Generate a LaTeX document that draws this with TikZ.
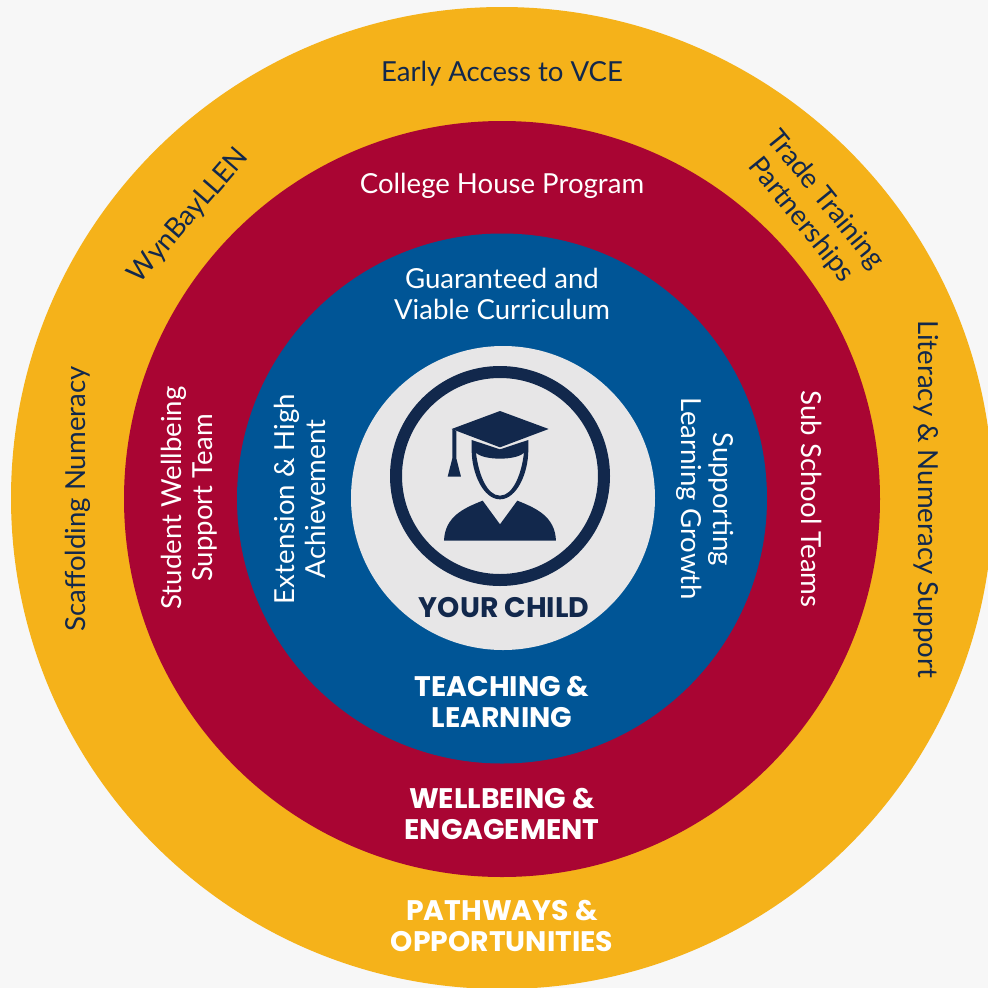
\documentclass[tikz,border=0pt]{standalone}
\usepackage{fontspec}
\setmainfont{Lato}
\newfontfamily\headfont{Poppins}
\definecolor{pagegrey}{HTML}{F7F7F7}
\definecolor{ringyellow}{HTML}{F5B21A}
\definecolor{ringred}{HTML}{A90533}
\definecolor{ringblue}{HTML}{005596}
\definecolor{coregrey}{HTML}{E7E6E7}
\definecolor{navy}{HTML}{12284C}

\begin{document}
\begin{tikzpicture}
  [x=0.02cm,y=-0.02cm,every node/.style={align=center,inner sep=0pt,font=\fontsize{15.7}{17.9}\selectfont},
   dark/.style={text=navy},
   light/.style={text=white},
   head/.style={text=white,font=\headfont\bfseries\fontsize{16.1}{17.9}\selectfont}]
  \useasboundingbox (0,0) rectangle (988,988);
  \clip (0,0) rectangle (988,988);
  \fill[pagegrey] (0,0) rectangle (988,988);
  \fill[ringyellow] (502,498) circle [radius=491];
  \fill[ringred] (502,499) circle [radius=378];
  \fill[ringblue] (502,498.5) circle [radius=265];
  \fill[coregrey] (503,498) circle [radius=152];
  \draw[navy,line width=12*0.02cm] (500,476) circle [radius=104];
  \begin{scope}[shift={(370,350)},scale=0.3333]
    \fill[navy,line join=round] (245,237) -- (390,183) -- (536,237) -- (390,292) -- cycle;
    \fill[navy,even odd rule] (305,270) -- (390,298) -- (475,270) -- (475,300) .. controls (475,370) and (440,448) .. (390,448) .. controls (340,448) and (305,370) .. (305,300) -- cycle
      (318,308) .. controls (340,332) and (440,332) .. (462,308) .. controls (455,370) and (430,437) .. (390,437) .. controls (350,437) and (325,370) .. (318,308) -- cycle;
    \fill[navy] (247,237) -- (259,243) -- (259,325) -- (273,380) -- (233,380) -- (247,325) -- cycle;
    \fill[navy] (222,572) .. controls (225,500) and (280,475) .. (338,452) -- (390,523) -- (442,452) .. controls (500,475) and (555,500) .. (558,572) -- cycle;
  \end{scope}
  \node[dark] (access) at (502,74) {Early Access to VCE};
  \node[dark,rotate=49] (wynbay) at (189,216) {WynBayLLEN};
  \node[dark,rotate=-51] (trade) at (813,210) {Trade Training\\Partnerships};
  \node[dark,rotate=90] (numeracy) at (78,499) {Scaffolding Numeracy};
  \node[dark,rotate=-90] (literacy) at (926,499) {Literacy \& Numeracy Support};
  \node[light] (house) at (502,186) {College House Program};
  \node[light,rotate=90] (support) at (189,498) {Student Wellbeing\\Support Team};
  \node[light,rotate=-90] (subschool) at (812,499) {Sub School Teams};
  \node[light] (curriculum) at (502,294) {Guaranteed and\\Viable Curriculum};
  \node[light,rotate=90] (extension) at (300,499) {Extension \& High\\Achievement};
  \node[light,rotate=-90] (growth) at (705,499) {Supporting\\Learning Growth};
  \node[head,text=navy] (child) at (504,608) {YOUR CHILD};
  \node[head] (teaching) at (502,702) {TEACHING \&\\LEARNING};
  \node[head] (wellbeing) at (502,814) {WELLBEING \&\\ENGAGEMENT};
  \node[head] (pathways) at (502,926) {PATHWAYS \&\\OPPORTUNITIES};
\end{tikzpicture}
\end{document}
